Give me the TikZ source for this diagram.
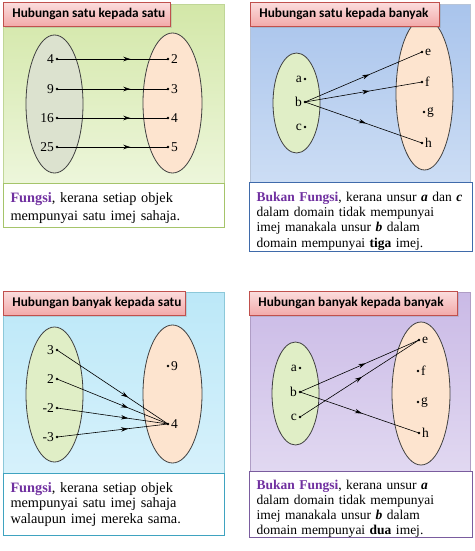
\documentclass[tikz,border=0pt]{standalone}
\usepackage{fontspec}
\setmainfont{Liberation Serif}
\newfontfamily\titlefont{Carlito}
\usetikzlibrary{decorations.markings,arrows.meta,shadows,shapes.geometric}
\definecolor{ttlA}{HTML}{FBDDDD}
\definecolor{ttlB}{HTML}{F2A9A9}
\definecolor{ttlBorder}{HTML}{C0504D}
\definecolor{grnA}{HTML}{D3E7A8}
\definecolor{grnB}{HTML}{EDF6DB}
\definecolor{grnBorder}{HTML}{A5C46A}
\definecolor{bluA}{HTML}{A9C4EC}
\definecolor{bluB}{HTML}{CCDDF4}
\definecolor{bluBorder}{HTML}{3F6AAA}
\definecolor{cyaA}{HTML}{BCE8F8}
\definecolor{cyaB}{HTML}{D6F1FB}
\definecolor{cyaBorder}{HTML}{3FA3C0}
\definecolor{purA}{HTML}{CABAE6}
\definecolor{purB}{HTML}{E1D8F1}
\definecolor{purBorder}{HTML}{7A5C9E}
\definecolor{elGrey}{HTML}{DCE2CF}
\definecolor{elLeft}{HTML}{E0EEC6}
\definecolor{elRight}{HTML}{FDE4CF}
\definecolor{purp}{HTML}{7030A0}
\newcommand\ttltext[2]{\makebox[#1][l]{#2}}
\tikzset{
  region/.style={draw, line width=0.8pt, anchor=north west, inner sep=0pt},
  titlebox/.style={draw=ttlBorder, line width=0.8pt, top color=ttlA, bottom color=ttlB,
    anchor=north west, inner xsep=9pt, inner ysep=0pt,
    font=\titlefont\bfseries\fontsize{13.3}{15}\selectfont,
    drop shadow={shadow xshift=1.5pt, shadow yshift=-1.5pt, opacity=0.25}},
  txtbox/.style={draw, fill=white, line width=1pt, anchor=north west, inner sep=0pt},
  txt/.style={inner sep=0pt, align=left},
  dom/.style={ellipse, draw=black!75, line width=0.8pt, inner sep=0pt},
  dotpt/.style={circle, fill=black, inner sep=0pt, minimum size=2.6pt},
  lbl/.style={font=\rmfamily\fontsize{13.5}{15}\selectfont, inner sep=1.5pt},
  arr/.style={line width=0.6pt, postaction={decorate},
    decoration={markings, mark=at position #1 with {\arrow{Stealth[length=7pt,width=4.5pt]}}}},
}
\begin{document}
\begin{tikzpicture}[x=1pt,y=-1pt]
\useasboundingbox (0,0) rectangle (474,551);
% ---------- Panel 1 ----------
\node[region, draw=grnBorder!70, top color=grnA, bottom color=grnB, minimum width=221pt, minimum height=179pt] (r1) at (3,4) {};
\node[dom, fill=elGrey, minimum width=57pt, minimum height=138pt] (d1) at (54.5,104) {};
\node[dom, fill=elRight, minimum width=59pt, minimum height=140pt] (c1) at (172.5,103) {};
\node[titlebox, minimum height=24pt] (t1) at (3,2) {\ttltext{149pt}{Hubungan satu kepada satu}};
\node[txtbox, draw=grnBorder, minimum width=221pt, minimum height=44pt] (b1) at (3,183) {};
\node[txt, text width=207pt, font=\fontsize{14.3}{18}\selectfont] (b1t) at ([yshift=-3pt]b1.center)
  {{\color{purp}\textbf{Fungsi}}, kerana setiap objek\\ mempunyai satu imej sahaja.};
\foreach \n/\y/\l in {a/59/4, b/89/9, c/118/16, d/147/25}
  \node[dotpt, label={[lbl,label distance=0pt]left:\l}] (p1\n) at (57,\y) {};
\foreach \n/\y/\l in {a/59/2, b/89/3, c/118/4, d/147/5}
  \node[dotpt, label={[lbl,label distance=0pt]right:\l}] (q1\n) at (168,\y) {};
\foreach \n in {a,b,c,d} \draw[arr=0.66] (p1\n.center) -- (q1\n.center);
% ---------- Panel 2 ----------
\node[region, draw=bluA!80!black!60, top color=bluA, bottom color=bluB, minimum width=220pt, minimum height=178pt] (r2) at (250,4) {};
\node[dom, fill=elLeft, minimum width=47pt, minimum height=100pt] (d2) at (296.5,103) {};
\node[dom, fill=elRight, minimum width=57pt, minimum height=152pt] (c2) at (424.5,94) {};
\node[titlebox, minimum height=24pt] (t2) at (250,2) {\ttltext{171pt}{Hubungan satu kepada banyak}};
\node[txtbox, draw=bluBorder, minimum width=223pt, minimum height=69pt] (b2) at (249,182) {};
\node[txt, text width=209pt, font=\fontsize{13.5}{15.3}\selectfont] (b2t) at ([yshift=-4pt]b2.center)
  {{\color{purp}\textbf{Bukan Fungsi}}, kerana unsur \textbf{\textit{a}} dan \textbf{\textit{c}}\\ dalam domain tidak mempunyai\\ imej manakala unsur \textbf{\textit{b}} dalam\\ domain mempunyai \textbf{tiga} imej.};
\foreach \n/\y in {a/79, b/102, c/127}
  \node[dotpt, label={[lbl,label distance=0pt]left:\n}] (p2\n) at (305,\y) {};
\foreach \n/\x/\y in {e/422/52, f/422/82, g/424/112, h/422/143}
  \node[dotpt, label={[lbl,label distance=0pt]right:\n}] (q2\n) at (\x,\y) {};
\draw[arr=0.55] (p2b.center) -- (q2e.center);
\draw[arr=0.55] (p2b.center) -- (q2f.center);
\draw[arr=0.52] (p2b.center) -- (q2h.center);
% ---------- Panel 3 ----------
\node[region, draw=cyaBorder!60, top color=cyaA, bottom color=cyaB, minimum width=221pt, minimum height=181pt] (r3) at (3,292) {};
\node[dom, fill=elLeft, minimum width=57pt, minimum height=135pt] (d3) at (54.5,394.5) {};
\node[dom, fill=elRight, minimum width=59pt, minimum height=138pt] (c3) at (172.5,394) {};
\node[titlebox, minimum height=24pt] (t3) at (3,291) {\ttltext{164pt}{Hubungan banyak kepada satu}};
\node[txtbox, draw=cyaBorder, minimum width=221pt, minimum height=62pt] (b3) at (3,473) {};
\node[txt, text width=207pt, font=\fontsize{14.3}{15.5}\selectfont] (b3t) at ([yshift=0pt]b3.center)
  {{\color{purp}\textbf{Fungsi}}, kerana setiap objek\\ mempunyai satu imej sahaja\\ walaupun imej mereka sama.};
\foreach \n/\y/\l in {a/350/3, b/379/2, c/408/-2, d/437/-3}
  \node[dotpt, label={[lbl,label distance=0pt]left:\l}] (p3\n) at (57,\y) {};
\node[dotpt, label={[lbl,label distance=0pt]right:9}] (q3a) at (168,366) {};
\node[dotpt, label={[lbl,label distance=0pt]right:4}] (q3b) at (168,424) {};
\foreach \n in {a,b,c,d} \draw[arr=0.64] (p3\n.center) -- (q3b.center);
% ---------- Panel 4 ----------
\node[region, draw=purBorder!60, top color=purA, bottom color=purB, minimum width=220pt, minimum height=179pt] (r4) at (250,292) {};
\node[dom, fill=elLeft, minimum width=47pt, minimum height=103pt] (d4) at (295.5,393.5) {};
\node[dom, fill=elRight, minimum width=58pt, minimum height=143pt] (c4) at (421,393.5) {};
\node[titlebox, minimum height=24pt] (t4) at (249,291) {\ttltext{190pt}{Hubungan banyak kepada banyak}};
\node[txtbox, draw=purBorder, minimum width=223pt, minimum height=66pt] (b4) at (249,471) {};
\node[txt, text width=209pt, font=\fontsize{13.5}{14.9}\selectfont] (b4t) at ([yshift=-4pt]b4.center)
  {{\color{purp}\textbf{Bukan Fungsi}}, kerana unsur \textbf{\textit{a}}\\ dalam domain tidak mempunyai\\ imej manakala unsur \textbf{\textit{b}} dalam\\ domain mempunyai \textbf{dua} imej.};
\foreach \n/\y in {a/368, b/392, c/417}
  \node[dotpt, label={[lbl,label distance=0pt]left:\n}] (p4\n) at (300,\y) {};
\foreach \n/\x/\y in {e/419/340, f/418/371, g/418/402, h/419/433}
  \node[dotpt, label={[lbl,label distance=0pt]right:\n}] (q4\n) at (\x,\y) {};
\draw[arr=0.55] (p4b.center) -- (q4e.center);
\draw[arr=0.52] (p4c.center) -- (q4e.center);
\draw[arr=0.52] (p4b.center) -- (q4h.center);
\end{tikzpicture}
\end{document}
